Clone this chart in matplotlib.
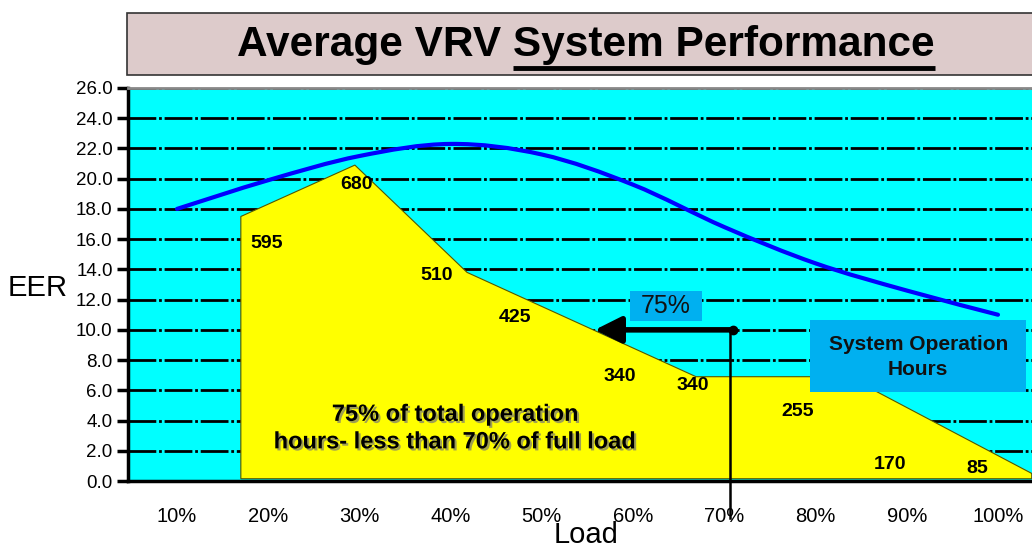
import matplotlib
matplotlib.use("Agg")
import matplotlib.pyplot as plt
from matplotlib.path import Path
from matplotlib.patches import PathPatch, Polygon, Rectangle
import matplotlib.patheffects as pe

plt.rcParams['font.family'] = ['Liberation Sans', 'DejaVu Sans']

# EER curve (percent load vs EER)
load_pct = [10, 20, 30, 40, 50, 60, 70, 80, 90, 100]
eer = [18.0, 19.9, 21.5, 22.3, 21.6, 19.6, 16.8, 14.4, 12.6, 11.0]
x_labels = ['10%', '20%', '30%', '40%', '50%', '60%', '70%', '80%', '90%', '100%']
y_ticks = [0, 2, 4, 6, 8, 10, 12, 14, 16, 18, 20, 22, 24, 26]

# operation hours shape (drawn on the EER scale) and its labels
hours_x = [17.0, 17.0, 29.5, 41.8, 66.9, 83.6, 103.7, 103.7]
hours_y = [0.15, 17.5, 20.9, 13.8, 6.9, 6.9, 0.5, 0.15]
hours = [595, 680, 510, 425, 340, 340, 255, 170, 85]
hours_lx = [19.8, 29.7, 38.5, 47.1, 58.5, 66.5, 78.0, 88.2, 97.7]
hours_ly = [15.7, 19.6, 13.6, 10.8, 6.9, 6.3, 4.6, 1.1, 0.8]

CYAN = '#00FFFF'
YELLOW = '#FFFF00'
BOXBLUE = '#00B0F0'


def smooth_path(xs, ys):
    # smoothed line like the spreadsheet one (Catmull-Rom as bezier segments)
    pts = list(zip(xs, ys))
    verts = [pts[0]]
    codes = [Path.MOVETO]
    n = len(pts)
    for i in range(n - 1):
        p0 = pts[max(i - 1, 0)]
        p1 = pts[i]
        p2 = pts[i + 1]
        p3 = pts[min(i + 2, n - 1)]
        c1 = (p1[0] + (p2[0] - p0[0]) / 6, p1[1] + (p2[1] - p0[1]) / 6)
        c2 = (p2[0] - (p3[0] - p1[0]) / 6, p2[1] - (p3[1] - p1[1]) / 6)
        verts += [c1, c2, p2]
        codes += [Path.CURVE4] * 3
    return Path(verts, codes)


fig = plt.figure(figsize=(10.32, 5.45), dpi=100)
ax = fig.add_axes([128 / 1032, 1 - 481 / 545, 904 / 1032, 393 / 545])
ax.set_facecolor(CYAN)
ax.set_xlim(4.63, 103.73)
ax.set_ylim(0, 26)
ax.set_axisbelow(True)

ax.set_yticks(y_ticks)
ax.set_yticklabels(['%.1f' % v for v in y_ticks], fontsize=13.5)
ax.set_xticks(load_pct)
ax.set_xticklabels(x_labels, fontsize=14.5)
ax.tick_params(axis='y', length=8, width=2.5, pad=3, direction='out')
ax.tick_params(axis='x', length=0, pad=19)
ax.yaxis.grid(True, color='black', lw=2, linestyle=(0, (10, 1, 1, 1)))

for side in ['left', 'bottom']:
    ax.spines[side].set_linewidth(2.5)
    ax.spines[side].set_color('black')
ax.spines['top'].set_color('#888888')
ax.spines['top'].set_linewidth(2)
ax.spines['right'].set_visible(False)

# hours area
ax.add_patch(Polygon(list(zip(hours_x, hours_y)), closed=True, facecolor=YELLOW,
                     edgecolor='#555500', lw=0.8, zorder=2))

# EER line
ax.add_patch(PathPatch(smooth_path(load_pct, eer), fill=False, edgecolor='#0000FF',
                       lw=3, capstyle='round', zorder=4))

for h, lx, ly in zip(hours, hours_lx, hours_ly):
    ax.text(lx, ly, str(h), fontsize=14, fontweight='bold', ha='center', va='center',
            zorder=5)

ax.text(40.5, 3.5, '75% of total operation\nhours- less than 70% of full load',
        fontsize=17, fontweight='bold', ha='center', va='center', linespacing=1.25,
        zorder=5,
        path_effects=[pe.withSimplePatchShadow(offset=(1.5, -1.5), shadow_rgbFace='#777777',
                                               alpha=0.7)])

# 75% arrow with vertical marker
ax.annotate('', xy=(55.8, 10.0), xytext=(71.0, 10.0),
            arrowprops=dict(arrowstyle='-|>,head_length=1.6,head_width=0.8',
                            color='black', lw=4, shrinkA=0, shrinkB=0), zorder=6)
ax.plot([71.0], [10.0], 'o', color='black', ms=6, zorder=6)
ax.plot([70.6, 70.6], [10.0, -2.45], color='black', lw=1.8, clip_on=False, zorder=6)

ax.add_patch(Rectangle((59.7, 10.6), 7.9, 2.0, facecolor=BOXBLUE, edgecolor='none', zorder=6))
ax.text(63.6, 11.6, '75%', fontsize=18, color='#111111', ha='center', va='center', zorder=7)

ax.add_patch(Rectangle((79.4, 5.9), 23.7, 4.75, facecolor=BOXBLUE, edgecolor='none', zorder=6))
ax.text(91.25, 8.2, 'System Operation\nHours', fontsize=15, fontweight='bold',
        color='#111111', ha='center', va='center', linespacing=1.35, zorder=7)

# axis labels
fig.text(38 / 1032, 1 - 288 / 545, 'EER', fontsize=21, ha='center', va='center')
fig.text(586 / 1032, 1 - 521 / 545, 'Load', fontsize=21, ha='center', va='top')

# title box
fig.patches.append(Rectangle((127 / 1032, 1 - 75 / 545), 920 / 1032, 62 / 545,
                             transform=fig.transFigure, facecolor='#DDCBCB',
                             edgecolor='#333333', lw=1.2, zorder=1))
title = fig.text(586 / 1032, 1 - 45 / 545, 'Average VRV System Performance',
                 fontsize=30.5, fontweight='bold', ha='center', va='center', zorder=3)

fig.canvas.draw()
r = fig.canvas.get_renderer()
tb = title.get_window_extent(r)
probe = fig.text(0, 0, 'System Performance', fontsize=30.5, fontweight='bold')
pw = probe.get_window_extent(r).width
probe.remove()
ux0 = (tb.x1 - pw) / fig.bbox.width
ux1 = tb.x1 / fig.bbox.width
uy = 1 - 68 / 545
fig.add_artist(plt.Line2D([ux0, ux1], [uy, uy], transform=fig.transFigure,
                          color='black', lw=3.5, solid_capstyle='butt'))

fig.savefig('out.png', dpi=100)
